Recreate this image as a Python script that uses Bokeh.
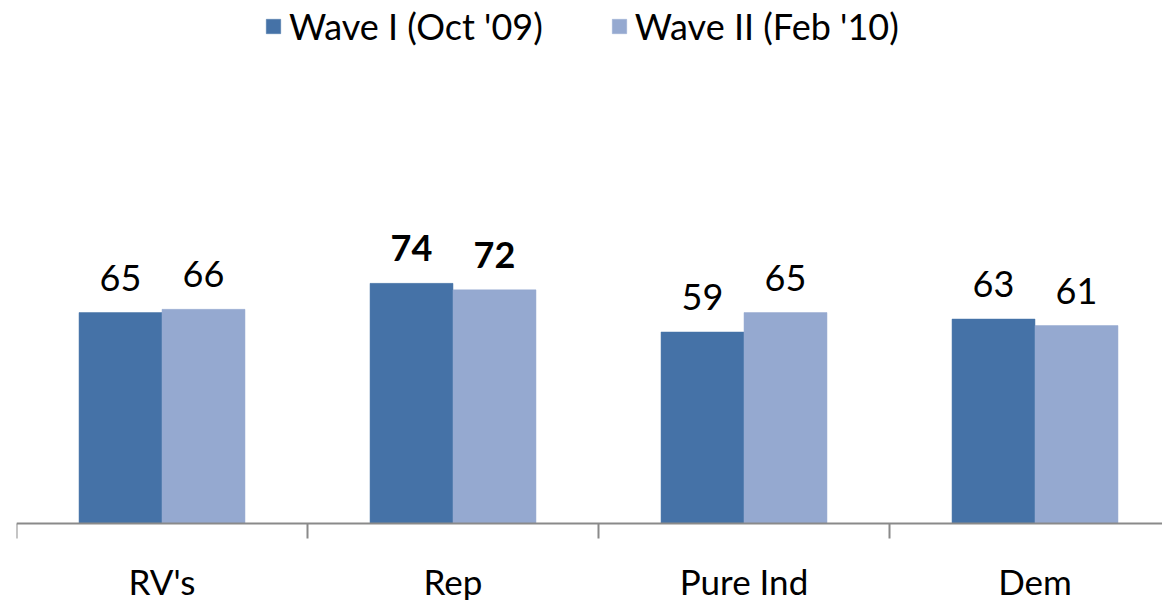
import numpy as np
from bokeh.plotting import figure
from bokeh.models import (Range1d, FixedTicker, LinearAxis, Legend, LegendItem,
                          ColumnDataSource)
from bokeh.core.properties import value
from bokeh.embed import file_html
from bokeh.resources import INLINE

categories = ["RV's", "Rep", "Pure Ind", "Dem"]
wave1 = [65, 74, 59, 63]
wave2 = [66, 72, 65, 61]
series_names = ["Wave I (Oct '09)", "Wave II (Feb '10)"]
label_styles = ["normal", "bold", "normal", "normal"]

DARK = "#4572A7"
LIGHT = "#95A9D0"
AXIS = "#8A8A8A"
FONT = "Lato"

n = len(categories)
centers = np.arange(n) + 0.5
off = 0.1426
bw = 0.285

W, H = 1162, 600
LEFT = 16
TOP = 4
px_per_cat = 291.0
px_per_unit = 3.245
frame_h = H - TOP
zero_from_top = 519
p = figure(width=W, height=H, output_backend="svg", toolbar_location=None,
           x_range=Range1d(0, (W - LEFT) / px_per_cat),
           y_range=Range1d(-(frame_h - zero_from_top) / px_per_unit, zero_from_top / px_per_unit),
           x_axis_location=None, y_axis_location=None,
           min_border_left=LEFT, min_border_right=0, min_border_top=TOP, min_border_bottom=0)
p.outline_line_color = None
p.xgrid.visible = False
p.ygrid.visible = False
p.background_fill_color = "white"
p.border_fill_color = "white"

src1 = ColumnDataSource(dict(x=centers - off, top=wave1, lbl=[str(v) for v in wave1], st=label_styles))
src2 = ColumnDataSource(dict(x=centers + off, top=wave2, lbl=[str(v) for v in wave2], st=label_styles))

r1 = p.vbar(x="x", top="top", width=bw, bottom=0, source=src1, fill_color=DARK, line_color=DARK, line_width=0.5)
r2 = p.vbar(x="x", top="top", width=bw, bottom=0, source=src2, fill_color=LIGHT, line_color=LIGHT, line_width=0.5)

for s in (src1, src2):
    p.text(x="x", y="top", text="lbl", source=s, text_align="center", text_baseline="alphabetic",
           y_offset=-35, text_font=value(FONT), text_font_size="36px", text_font_style="st",
           text_color="black")

# category axis line with boundary ticks, fixed at y = 0, ticks pointing down
ax = LinearAxis(ticker=FixedTicker(ticks=list(range(n + 1)), minor_ticks=[]),
                fixed_location=0,
                major_label_overrides={i: "" for i in range(n + 1)},
                axis_line_color=AXIS, axis_line_width=2,
                major_tick_out=0, major_tick_in=15, major_tick_line_color=AXIS, major_tick_line_width=2,
                minor_tick_out=0, minor_tick_in=0,
                major_label_standoff=0, major_label_text_font_size="1px")
p.add_layout(ax, "above")

cat_src = ColumnDataSource(dict(x=centers, y=[0] * n, text=categories))
p.text(x="x", y="y", text="text", source=cat_src, text_align="center",
       text_baseline="alphabetic", y_offset=57,
       text_font=value(FONT), text_font_size="35px", text_color="black")

legend = Legend(items=[LegendItem(label=series_names[0], renderers=[r1]),
                       LegendItem(label=series_names[1], renderers=[r2])],
                orientation="horizontal", location=(248, 552),
                label_text_font=FONT, label_text_font_size="36px", label_text_color="black",
                glyph_width=18, glyph_height=18, label_standoff=7, spacing=67,
                padding=0, margin=0, border_line_color=None, background_fill_alpha=0)
p.add_layout(legend, "center")

open("out.html", "w").write(file_html(p, INLINE))
